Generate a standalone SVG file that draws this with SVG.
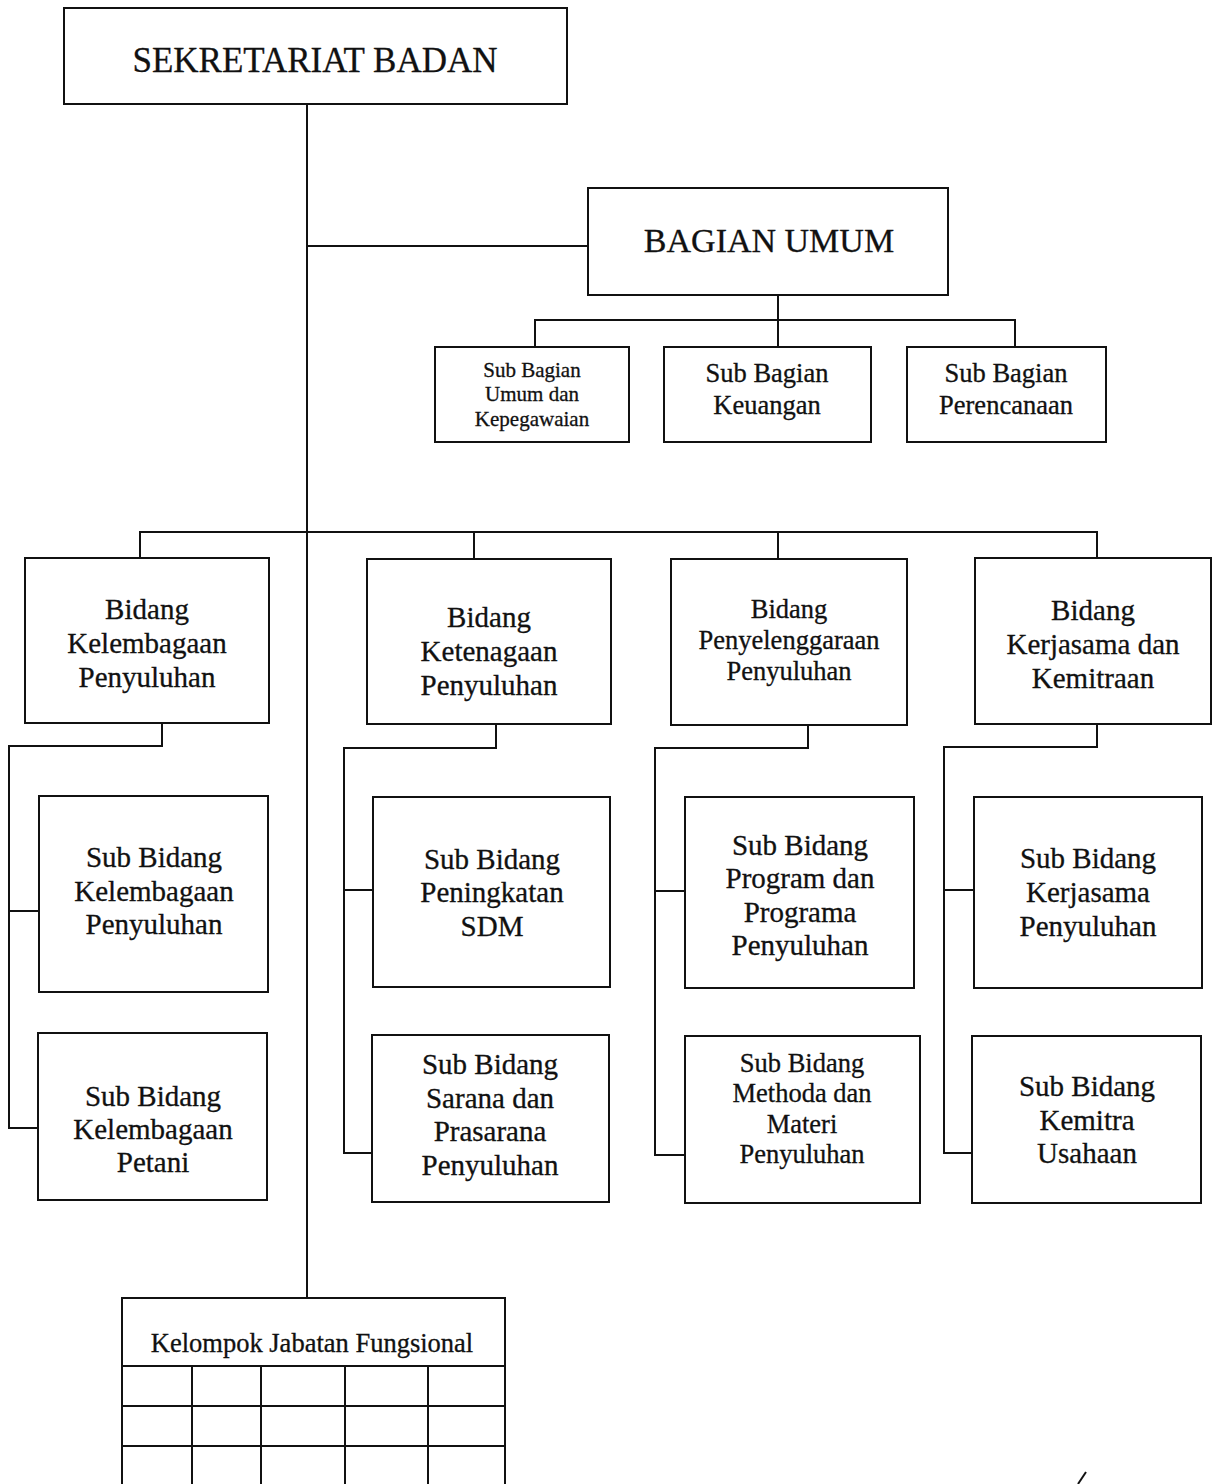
<svg xmlns="http://www.w3.org/2000/svg" width="1217" height="1484" viewBox="0 0 1217 1484">
<style>
.box{fill:#fff;stroke:#111;stroke-width:2}
.ln{fill:none;stroke:#111;stroke-width:2}
text{font-family:"Liberation Serif","Times New Roman",serif;fill:#111;stroke:#111;stroke-width:0.3;text-anchor:middle}
.t35{font-size:35px}
.t34{font-size:34px}
.t29{font-size:29px}
.t27{font-size:26.5px}
.t21{font-size:21px}
</style>
<rect width="1217" height="1484" fill="#fff"/>
<g id="connectors" class="ln">
<path d="M307 104V1298"/>
<path d="M307 246H588"/>
<path d="M778 295V347M535 347V320H1015V347"/>
<path d="M140 558V532H1097V557M474 532V559M778 532V559"/>
<path d="M162 723V746H9V1128H39M9 911H39"/>
<path d="M496 724V748H344V1153H372M344 890H373"/>
<path d="M808 725V748H655V1155H685M655 891H685"/>
<path d="M1097 724V747H944V1153H972M944 890H974"/>
</g>
<g id="sekretariat"><rect class="box" x="64" y="8" width="503" height="96"/><text class="t35" x="315" y="72">SEKRETARIAT BADAN</text></g>
<g id="bagian-umum"><rect class="box" x="588" y="188" width="360" height="107"/><text class="t34" x="769" y="252">BAGIAN UMUM</text></g>
<g id="sub-umum"><rect class="box" x="435" y="347" width="194" height="95"/><text class="t21" x="532" y="377">Sub Bagian</text><text class="t21" x="532" y="401">Umum dan</text><text class="t21" x="532" y="426">Kepegawaian</text></g>
<g id="sub-keuangan"><rect class="box" x="664" y="347" width="207" height="95"/><text class="t27" x="767" y="382">Sub Bagian</text><text class="t27" x="767" y="414">Keuangan</text></g>
<g id="sub-perencanaan"><rect class="box" x="907" y="347" width="199" height="95"/><text class="t27" x="1006" y="382">Sub Bagian</text><text class="t27" x="1006" y="414">Perencanaan</text></g>
<g id="bidang-kelembagaan"><rect class="box" x="25" y="558" width="244" height="165"/><text class="t29" x="147" y="619">Bidang</text><text class="t29" x="147" y="653">Kelembagaan</text><text class="t29" x="147" y="687">Penyuluhan</text></g>
<g id="bidang-ketenagaan"><rect class="box" x="367" y="559" width="244" height="165"/><text class="t29" x="489" y="627">Bidang</text><text class="t29" x="489" y="661">Ketenagaan</text><text class="t29" x="489" y="695">Penyuluhan</text></g>
<g id="bidang-penyelenggaraan"><rect class="box" x="671" y="559" width="236" height="166"/><text class="t27" x="789" y="618">Bidang</text><text class="t27" x="789" y="649">Penyelenggaraan</text><text class="t27" x="789" y="680">Penyuluhan</text></g>
<g id="bidang-kerjasama"><rect class="box" x="975" y="558" width="236" height="166"/><text class="t29" x="1093" y="620">Bidang</text><text class="t29" x="1093" y="654">Kerjasama dan</text><text class="t29" x="1093" y="688">Kemitraan</text></g>
<g id="sub-kelembagaan-penyuluhan"><rect class="box" x="39" y="796" width="229" height="196"/><text class="t29" x="154" y="867">Sub Bidang</text><text class="t29" x="154" y="901">Kelembagaan</text><text class="t29" x="154" y="934">Penyuluhan</text></g>
<g id="sub-kelembagaan-petani"><rect class="box" x="38" y="1033" width="229" height="167"/><text class="t29" x="153" y="1106">Sub Bidang</text><text class="t29" x="153" y="1139">Kelembagaan</text><text class="t29" x="153" y="1172">Petani</text></g>
<g id="sub-peningkatan-sdm"><rect class="box" x="373" y="797" width="237" height="190"/><text class="t29" x="492" y="869">Sub Bidang</text><text class="t29" x="492" y="902">Peningkatan</text><text class="t29" x="492" y="936">SDM</text></g>
<g id="sub-sarana"><rect class="box" x="372" y="1035" width="237" height="167"/><text class="t29" x="490" y="1074">Sub Bidang</text><text class="t29" x="490" y="1108">Sarana dan</text><text class="t29" x="490" y="1141">Prasarana</text><text class="t29" x="490" y="1175">Penyuluhan</text></g>
<g id="sub-program"><rect class="box" x="685" y="797" width="229" height="191"/><text class="t29" x="800" y="855">Sub Bidang</text><text class="t29" x="800" y="888">Program dan</text><text class="t29" x="800" y="922">Programa</text><text class="t29" x="800" y="955">Penyuluhan</text></g>
<g id="sub-methoda"><rect class="box" x="685" y="1036" width="235" height="167"/><text class="t27" x="802" y="1072">Sub Bidang</text><text class="t27" x="802" y="1102">Methoda dan</text><text class="t27" x="802" y="1133">Materi</text><text class="t27" x="802" y="1163">Penyuluhan</text></g>
<g id="sub-kerjasama"><rect class="box" x="974" y="797" width="228" height="191"/><text class="t29" x="1088" y="868">Sub Bidang</text><text class="t29" x="1088" y="902">Kerjasama</text><text class="t29" x="1088" y="936">Penyuluhan</text></g>
<g id="sub-kemitra"><rect class="box" x="972" y="1036" width="229" height="167"/><text class="t29" x="1087" y="1096">Sub Bidang</text><text class="t29" x="1087" y="1130">Kemitra</text><text class="t29" x="1087" y="1163">Usahaan</text></g>
<g id="kelompok-jabatan-fungsional">
<path class="ln" d="M122 1490V1298H505V1490"/>
<text class="t27" x="312" y="1352">Kelompok Jabatan Fungsional</text>
<path class="ln" d="M122 1366H505M122 1406H505M122 1446H505M192 1366V1490M261 1366V1490M345 1366V1490M428 1366V1490"/>
</g>
<path class="ln" d="M1078 1484L1086 1472"/>
</svg>
